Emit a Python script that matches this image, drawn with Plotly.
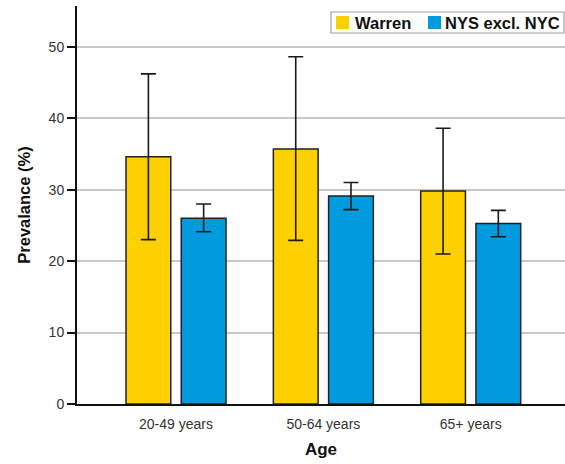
import plotly.graph_objects as go

categories = ["20-49 years", "50-64 years", "65+ years"]
warren = [34.6, 35.7, 29.8]
warren_hi = [46.2, 48.6, 38.6]
warren_lo = [23.0, 22.9, 21.0]
nys = [26.0, 29.1, 25.25]
nys_hi = [28.0, 31.0, 27.1]
nys_lo = [24.1, 27.2, 23.4]
series_names = ["Warren", "NYS excl. NYC"]
series_colors = ["#FFD000", "#009ADE"]

W, H = 565, 464
ML, MR, MT, MB = 77, 0, 6, 60
PW, PH = W - ML - MR, H - MT - MB

def px(x):
    return (x - ML) / PW

def py(y):
    return 1 - (y - MT) / PH

def err(v, hi, lo):
    return dict(type="data", symmetric=False,
                array=[h - x for h, x in zip(hi, v)],
                arrayminus=[x - l for l, x in zip(lo, v)],
                color="#1a1a1a", thickness=1.6, width=7.5)

fig = go.Figure()
fig.add_trace(go.Bar(name=series_names[0], x=categories, y=warren,
                     marker=dict(color=series_colors[0], line=dict(color="#222222", width=1.5)),
                     error_y=err(warren, warren_hi, warren_lo)))
fig.add_trace(go.Bar(name=series_names[1], x=categories, y=nys,
                     marker=dict(color=series_colors[1], line=dict(color="#222222", width=1.5)),
                     error_y=err(nys, nys_hi, nys_lo)))

font = "Liberation Sans, Arial, sans-serif"

# custom legend (box, swatches, labels)
shapes = [dict(type="rect", xref="paper", yref="paper", x0=px(331), x1=px(564), y0=py(33), y1=py(12),
               line=dict(color="#a0a0a0", width=1.2), fillcolor="white", layer="above")]
annotations = []
sw_x = [336, 428]
tx_x = [353, 443]
for i in range(2):
    shapes.append(dict(type="rect", xref="paper", yref="paper", x0=px(sw_x[i]), x1=px(sw_x[i] + 13),
                       y0=py(29), y1=py(16), line=dict(width=0), fillcolor=series_colors[i], layer="above"))
    annotations.append(dict(text="<b>" + series_names[i] + "</b>", xref="paper", yref="paper",
                            x=px(tx_x[i]), y=py(22.5), xanchor="left", yanchor="middle", showarrow=False,
                            font=dict(size=16.5, color="#111111", family=font)))

fig.update_layout(
    width=W, height=H,
    margin=dict(l=ML, r=MR, t=MT, b=MB, autoexpand=False),
    paper_bgcolor="white", plot_bgcolor="white",
    barmode="group", bargap=0.25, bargroupgap=0.19,
    font=dict(family=font, color="#222222"),
    showlegend=False,
    shapes=shapes, annotations=annotations,
    xaxis=dict(range=[-0.672, 2.64], showline=True, linecolor="#111111", linewidth=2,
               ticks="", ticklabelstandoff=6, tickfont=dict(size=14, color="#333333"),
               title=dict(text="<b>Age</b>", font=dict(size=17, color="#111111"), standoff=12),
               showgrid=False),
    yaxis=dict(range=[0, 55.7], tickvals=[0, 10, 20, 30, 40, 50],
               showline=True, linecolor="#111111", linewidth=2,
               ticks="outside", ticklen=8, tickwidth=2, tickcolor="#111111",
               tickfont=dict(size=14, color="#333333"),
               gridcolor="#c8c8c8", gridwidth=1.5, zeroline=False,
               title=dict(text="<b>Prevalance (%)</b>", font=dict(size=16.5, color="#111111"), standoff=14)),
)
fig.write_html("out.html", config={"displayModeBar": False},
               post_script="document.body.style.margin='0';")
